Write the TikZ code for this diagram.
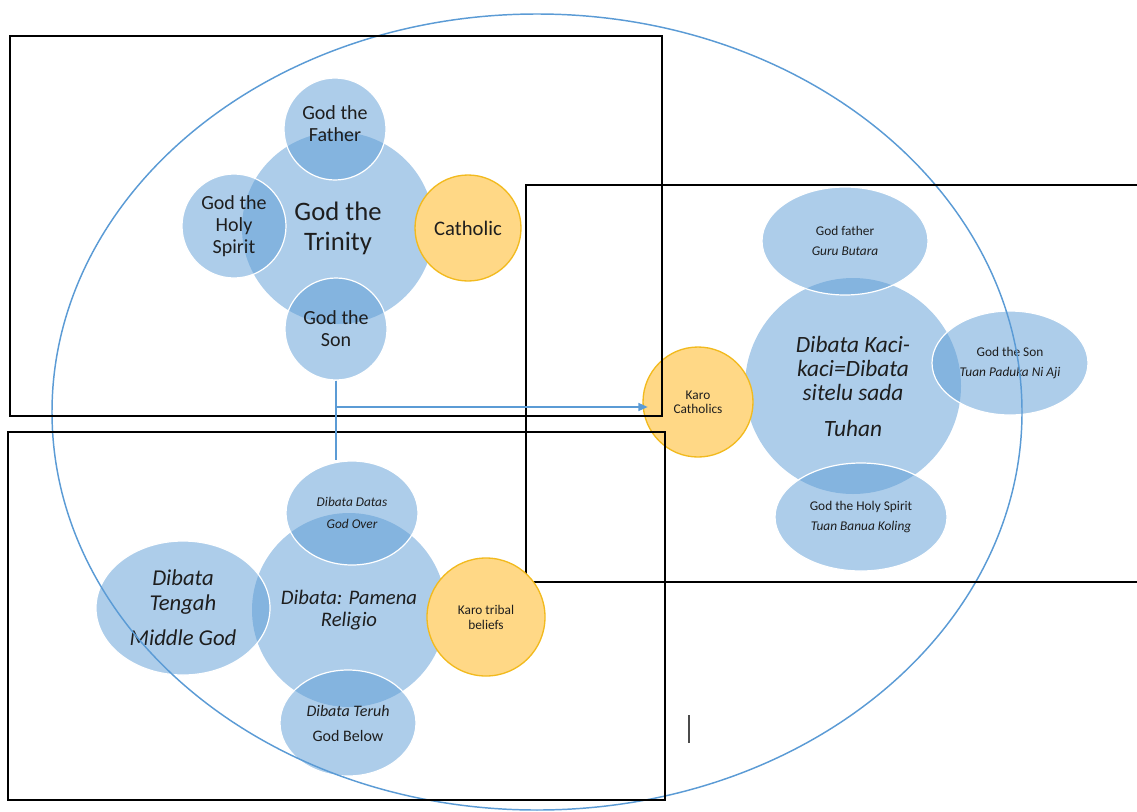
\documentclass[tikz,border=0pt]{standalone}
\usepackage{fontspec}
\setmainfont{Carlito}
\usepackage{xcolor}
\usetikzlibrary{arrows.meta,shapes.geometric}
\definecolor{ink}{HTML}{1E1E1E}
\definecolor{sky}{HTML}{5B9BD5}
\definecolor{amber}{HTML}{FFD886}
\definecolor{amberline}{HTML}{F2BA1E}
\tikzset{
  disc/.style={circle, fill=sky, fill opacity=0.5, text opacity=1, text=ink, align=center, inner sep=0pt},
  sat/.style={disc, draw=white, line width=0.9pt},
  oval/.style={ellipse, fill=sky, fill opacity=0.5, text opacity=1, text=ink, align=center, inner sep=0pt, draw=white, line width=0.9pt},
  hub/.style={circle, fill=amber, draw=amberline, line width=1pt, text=ink, align=center, inner sep=0pt},
  frame/.style={draw=black, line width=1.1pt},
  rim/.style={draw=sky, line width=1.1pt},
  link/.style={draw=sky, line width=1.1pt},
}

\begin{document}
\begin{tikzpicture}[x=0.75pt,y=-0.75pt]
  \useasboundingbox (0,0) rectangle (1137,811);
  % trinity group
  \node[disc, minimum size=144pt, font=\fontsize{20}{22.5}\selectfont] (trinity) at (338,228) {God the\\Trinity};
  \node[sat, minimum size=76.5pt, font=\fontsize{15}{16.5}\selectfont] (father) at (335,129) {God the\\Father\\[-8pt]};
  \node[sat, minimum size=78pt, font=\fontsize{15}{16.5}\selectfont] (spirit) at (234,226) {God the\\Holy\\Spirit};
  \node[sat, minimum size=76.5pt, font=\fontsize{15}{16.5}\selectfont] (son) at (336,329) {God the\\Son};
  \node[hub, minimum size=79.5pt, font=\fontsize{15.5}{17}\selectfont] (catholic) at (468,228) {Catholic};
  % karo catholic group
  \node[disc, minimum size=162pt, font=\fontsize{17.5}{18}\itshape] (kaci) at (853,386) {Dibata Kaci-\\kaci=Dibata\\sitelu sada\\[9pt]Tuhan};
  \node[oval, minimum width=124.5pt, minimum height=81pt, font=\fontsize{10}{15.5}\selectfont] (gfather) at (845,241) {God father\\\textit{Guru Butara}};
  \node[oval, minimum width=117pt, minimum height=78pt, font=\fontsize{10}{15.5}\selectfont] (gson) at (1010,363) {God the Son\\\textit{Tuan Paduka Ni Aji}};
  \node[oval, minimum width=129pt, minimum height=81pt, font=\fontsize{10}{15.5}\selectfont] (gspirit) at (861,517) {God the Holy Spirit\\\textit{Tuan Banua Koling}};
  \node[hub, minimum size=82.5pt, font=\fontsize{10}{10.5}\selectfont] (karocath) at (698,402) {Karo\\Catholics};
  % pamena group
  \node[disc, minimum size=145.5pt, font=\fontsize{15.5}{16.5}\itshape] (pamena) at (349,610) {Dibata: Pamena\\Religio};
  \node[oval, minimum width=99pt, minimum height=78pt, font=\fontsize{10}{16.5}\itshape] (datas) at (352,513) {Dibata Datas\\God Over};
  \node[oval, minimum width=102pt, minimum height=79.5pt, font=\fontsize{12}{18.75}\selectfont] (teruh) at (348,723) {\textit{Dibata Teruh}\\God Below};
  \node[oval, minimum width=130.5pt, minimum height=100.5pt, font=\fontsize{17}{18.75}\itshape] (tengah) at (183,608) {Dibata\\Tengah\\[7.5pt]Middle God};
  % frames
  \draw[rim] (537,412) ellipse [x radius=363.75pt, y radius=298.5pt];
  \draw[frame] (10,36) rectangle (662,416);
  \draw[frame] (526,185) rectangle (1145,582);
  \draw[frame] (8,432) rectangle (665,800);
  \node[hub, minimum size=88.5pt, font=\fontsize{10}{11.25}\selectfont] (tribal) at (486,617) {Karo tribal\\beliefs};
  % connectors
  \draw[link] (son.south) -- (son.south |- datas.north);
  \draw[link, -{Triangle[length=7pt,width=6pt]}, shorten >=-4pt] (son.south) |- ([yshift=-3.75pt]karocath.west);
  \draw[draw=ink!80, line width=1.2pt] (689,715) -- (689,743);
\end{tikzpicture}
\end{document}
